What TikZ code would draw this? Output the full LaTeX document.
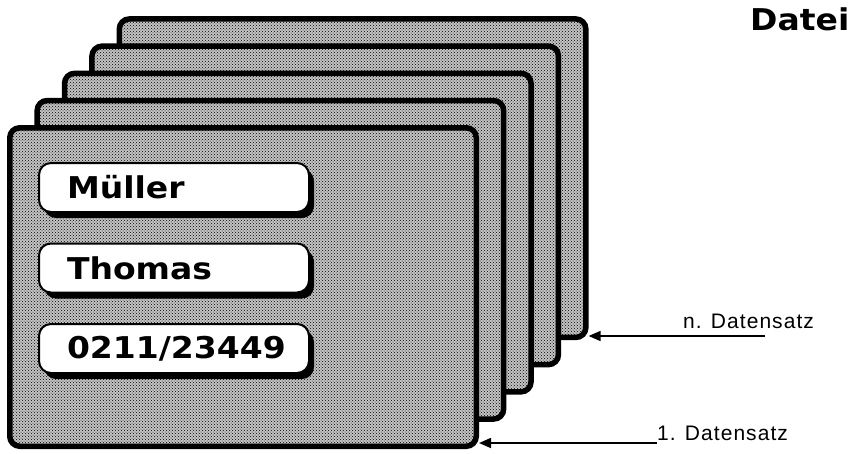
\documentclass[tikz,border=0pt]{standalone}
\usepackage{fontspec}
\setmainfont{Liberation Sans}
\newfontfamily\feldfont{DejaVu Sans}[UprightFont={* Bold},FakeStretch=1.1]
\newfontfamily\satzfont{Liberation Sans}[LetterSpace=5]
\usetikzlibrary{positioning,arrows.meta,shadows,patterns}
\definecolor{Raster}{RGB}{196,196,196}
\definecolor{DarkLine}{RGB}{0,0,0}
\tikzset{
  karte/.style={
    draw=DarkLine,
    line width=5.5pt,
    fill=Raster,
    postaction={pattern=crosshatch dots,pattern color=black},
    rounded corners=10pt,
    inner sep=0pt,
    minimum width=466.5pt,
    minimum height=318.5pt
  },
  feld/.style={
    draw=DarkLine,
    line width=2pt,
    fill=white,
    rounded corners=12pt,
    minimum width=270pt,
    minimum height=49pt,
    text width=214pt,
    inner xsep=28pt,
    align=left,
    font=\feldfont\fontsize{30}{30}\selectfont,
    drop shadow={shadow xshift=5pt,shadow yshift=-6pt,fill=black,opacity=1}
  },
  satz/.style={font=\satzfont\fontsize{21}{21}\selectfont,inner sep=0pt},
  pfeil/.style={-{Triangle[length=12pt,width=10pt]},line width=1.6pt,draw=DarkLine}
}

\begin{document}
\begin{tikzpicture}[x=1pt,y=-1pt,node distance=29.5pt]
    \useasboundingbox (0,0) rectangle (854,453);
    % Datensaetze, hinten zuerst
    \foreach \k in {5,4,3,2,1}{
      \node[karte] (karte\k) at ({243+27.4*(\k-1)},{287-27.2*(\k-1)}) {};
    }
    \node[feld] (feldname) at (174,187.5) {Müller};
    \node[feld,below=of feldname] (feldvorname) {Thomas};
    \node[feld,below=of feldvorname] (feldtelefon) {0211/23449};
    \node[anchor=base west,inner sep=0pt,font=\feldfont\fontsize{30}{30}\selectfont] (datei) at (750,30) {Datei};
    \node[satz,anchor=base west] (satzn) at (683,328) {n. Datensatz};
    \node[satz,anchor=base west] (satzeins) at (657,440) {1. Datensatz};
    \coordinate (nstart) at (765,336);
    \coordinate (einsstart) at (657,443);
    \draw[pfeil] (nstart) -- (karte5.east |- nstart);
    \draw[pfeil] (einsstart) -- (karte1.east |- einsstart);
  \end{tikzpicture}
\end{document}
